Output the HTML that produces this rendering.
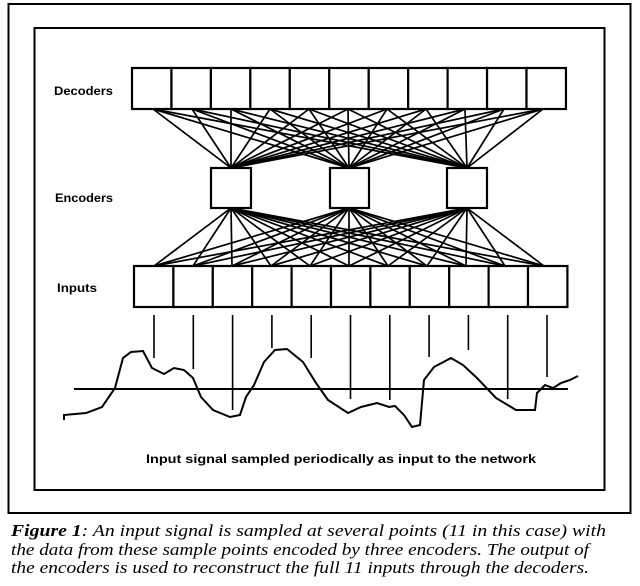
<!DOCTYPE html>
<html><head><style>
html,body{margin:0;padding:0;background:#fff;}
svg{display:block;}
.lbl{font-family:"Liberation Sans","DejaVu Sans",sans-serif;font-size:12px;font-weight:bold;fill:#000;}
.cap{font-family:"Liberation Serif",serif;font-style:italic;font-size:17px;fill:#000;}
</style></head><body>
<svg width="640" height="586" viewBox="0 0 640 586" xmlns="http://www.w3.org/2000/svg">
<rect x="8.5" y="4" width="622" height="509" fill="none" stroke="#000" stroke-width="2"/>
<rect x="34.5" y="28" width="570" height="462" fill="none" stroke="#000" stroke-width="2"/>
<g id="lines" stroke="#000" stroke-width="1.7"></g>
<g fill="#fff" stroke="#000" stroke-width="2.2" id="boxes"></g>
<text class="lbl" x="54" y="95" textLength="59" lengthAdjust="spacingAndGlyphs">Decoders</text>
<text class="lbl" x="55" y="202" textLength="58" lengthAdjust="spacingAndGlyphs">Encoders</text>
<text class="lbl" x="57" y="292" textLength="40" lengthAdjust="spacingAndGlyphs">Inputs</text>
<g id="samples" stroke="#000" stroke-width="1.6"></g>
<line x1="74" y1="389" x2="568" y2="389" stroke="#000" stroke-width="2"/>
<polyline fill="none" stroke="#000" stroke-width="2" points="64,420 64,415 86,413 102,407 115,388 123,358 131,352 143,351 152,368 164,374 174,368 184,370 193,378 201,397 213,410 230,417 240,415 246,397 254,385 264,362 275,350 287,349 303,362 316,383 328,400 348,413 361,407 377,403 389,407 395,406 404,415 412,427 420,425 424,380 434,367 451,358 463,365 477,378 496,398 516,410 535,410 537,393 545,385 553,388 561,383 570,380 578,376"/>
<text class="lbl" x="146" y="463" textLength="390" lengthAdjust="spacingAndGlyphs">Input signal sampled periodically as input to the network</text>
<text class="cap" x="11" y="536" textLength="595" lengthAdjust="spacingAndGlyphs"><tspan font-weight="bold">Figure 1</tspan>: An input signal is sampled at several points (11 in this case) with</text>
<text class="cap" x="11" y="555" textLength="578" lengthAdjust="spacingAndGlyphs">the data from these sample points encoded by three encoders. The output of</text>
<text class="cap" x="11" y="573" textLength="578" lengthAdjust="spacingAndGlyphs">the encoders is used to reconstruct the full 11 inputs through the decoders.</text>
</svg>
<script>
var ns="http://www.w3.org/2000/svg";
function el(p,t,a){var e=document.createElementNS(ns,t);for(var k in a)e.setAttribute(k,a[k]);p.appendChild(e);}
var L=document.getElementById('lines'),B=document.getElementById('boxes'),S=document.getElementById('samples');
var enc=[231,349,467];
for(var i=0;i<11;i++){
  var x=153+i*39;
  for(var j=0;j<3;j++){
    el(L,'line',{x1:x,y1:109,x2:enc[j],y2:168});
    el(L,'line',{x1:enc[j],y1:208,x2:x+1,y2:266});
  }
  el(B,'rect',{x:132+i*39.45,y:68,width:39.45,height:41});
  el(B,'rect',{x:134+i*39.4,y:266,width:39.4,height:41});
}
[[211,251],[330,369],[447,487]].forEach(function(r){el(B,'rect',{x:r[0],y:168,width:r[1]-r[0],height:40});});
var bot=[358,369,410,348,358,399,400,357,350,399,377];
for(var i=0;i<11;i++){var x=154+i*39.3;el(S,'line',{x1:x,y1:315,x2:x,y2:bot[i]});}
</script>
</body></html>
